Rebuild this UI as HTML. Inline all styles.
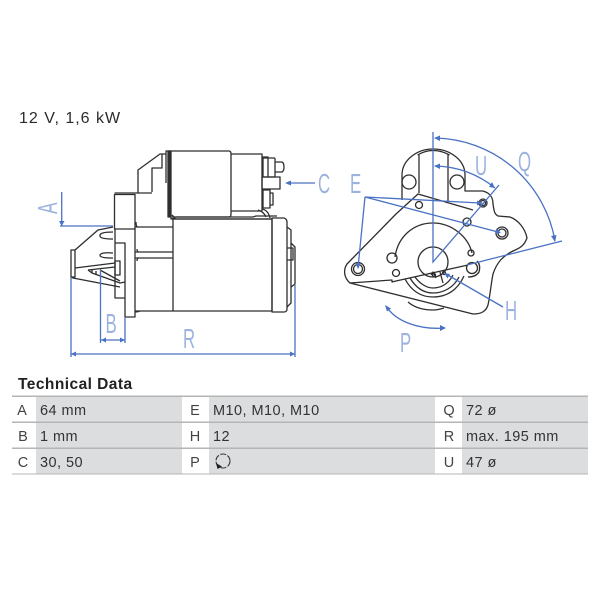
<!DOCTYPE html>
<html>
<head>
<meta charset="utf-8">
<style>
html,body{margin:0;padding:0;background:#fff;width:600px;height:600px;overflow:hidden}
svg{display:block;font-family:"Liberation Sans",sans-serif}
.d{fill:none;stroke:#2e2e2e;stroke-width:1.3;stroke-linejoin:round}
.b{fill:none;stroke:#4a72c4;stroke-width:1.3}
.ah{fill:#4a72c4;stroke:none}
.l{fill:#9cb3e0;font-size:28px}
.t{fill:#333;font-size:14.5px;letter-spacing:.45px}
.k{fill:#444;font-size:14.5px;text-anchor:middle}
</style>
</head>
<body>
<svg width="600" height="600" viewBox="0 0 600 600" xmlns="http://www.w3.org/2000/svg">
<text x="19" y="123" font-size="16" letter-spacing="1" fill="#2b2b2b">12 V, 1,6 kW</text>

<!-- side view -->
<g class="d">
<rect x="114.500" y="194.500" width="20.500" height="34.500"/>
<path d="M135 229V312M135 312V317H125V243H115M115 229V298H125"/>
<path d="M138 193V170L160 154H166V151H171M138 193H114.500M152 192V168H162V154M166 151V183M138 193H152"/>
<path d="M135 227H138Q136 227 136 222M136 227H173M135 252H173M135 258H173M139 252Q137 252 137 249M139 258Q137 258 137 261M135 311H173M135 312Q138 312 140 311"/>
<path d="M113 227L98 230L75 250H71V277H75V268L115 263M75 250V270M73 278L120 287M71 277L73 278"/>
<path d="M113 232Q99 232 100 236Q100 239 113 239M113 253Q100 252 100 255.500Q100 258 113 258"/>
<path d="M88 270L115 267M88 270L92 273L120 283L125 282M92 273V270M96 271V274M100 270L120 281M115 261V275H120V261Z"/>
<rect x="168" y="151" width="3" height="66" fill="#2e2e2e"/>
<path d="M171 151H229Q231 151 231 154V214Q231 217 229 217H172M231 154H262V211H231"/>
<path d="M262 157H268L263 158V177M275 158H263M275 158V177H263M268 158V177M275 162H282Q284 163 284 167Q284 171 282 172H275"/>
<rect x="262" y="177" width="18" height="12"/>
<path d="M263 190V208H270V190ZM270 193H273V205H270"/>
<path d="M171 215V219L175 218L172 215M172 219H272M176 217H253L256 216H277M262 209Q268 210 270 218M258 210Q264 212 266 217"/>
<rect x="173" y="219" width="99" height="92"/>
<path d="M272 218H284Q287 219 287 222V309Q287 312 284 312H272V218Z"/>
<path d="M287 227L291 230V303L287 307"/>
<path d="M291 243L295 247V284L291 287M287 248H293V260H287"/>
</g>

<!-- side view dims -->
<g class="b">
<path d="M61.700 192V226M60 226H113"/>
<path d="M100.500 270V343M125 317V343M101 340H125"/>
<path d="M71 277V357M295 285V357M71 354H295"/>
<path d="M315 183H288"/>
</g>
<g class="ah">
<path d="M59 221H64.500L61.700 226Z"/>
<path d="M101 340L106 337.500V342.500ZM125 340L120 337.500V342.500Z"/>
<path d="M71 354L76 351.500V356.500ZM295 354L290 351.500V356.500Z"/>
<path d="M285 183L291 180.500V185.500Z"/>
</g>

<!-- front view -->
<g class="d">
<path d="M402 200V175C402 160 417 149 433 149C450 149 465 160 465 175V191H483C490 193 493 197 493 204C494 210 494 214 498 216L510 217C518 220 525 228 527 238C524 246 520 248 513 251C503 256 497 262 493 274C491 284 490 296 488 305C486 311 482 314 473 314L350 283C344 278 343 270 347 264L396 214L418 194L473 210"/>
<path d="M419 155V193M448 155V201M417.500 155Q433 146 449.500 155"/>
<circle cx="409" cy="182" r="7"/>
<circle cx="457" cy="182" r="7"/>
<circle cx="419" cy="205" r="3.500"/>
<circle cx="467" cy="222" r="4"/>
<circle cx="483" cy="203" r="4"/>
<circle cx="483" cy="203" r="2.500"/>
<circle cx="502" cy="233" r="6"/>
<circle cx="502" cy="233" r="4"/>
<circle cx="358" cy="269" r="6.500"/>
<circle cx="358" cy="269" r="4.500"/>
<path d="M395 257C398 236 414 223 433 223C451 223 468 236 472 253"/>
<circle cx="433" cy="262" r="15"/>
<circle cx="392" cy="258" r="5"/>
<circle cx="396" cy="273" r="3.500"/>
<circle cx="471" cy="253" r="3"/>
<circle cx="472" cy="268" r="5.500"/>
<path d="M477 261Q481 265 479 272Q476 277 468 277"/>
<path d="M350 283L392 280V282L396 281L468 265"/>
<path d="M405 279C412 292 422 297 433 297C448 297 458 289 464 276M410 278C416 288 424 293 433 293C444 293 454 287 459 277M415 277C420 284 427 288 433 288C442 288 449 283 453 275"/>
<path d="M408 302C415 308 425 310 433 310C437 310 441 309 444 308"/>
<path d="M431 275L433 272L436 278M440 272L443 283"/>
<circle cx="434" cy="275" r="1.500"/>
<circle cx="444" cy="273" r="1.500"/>
</g>

<g class="b">
<path d="M433 132V262L499 185"/>
<path d="M435 138A124 124 0 0 1 555 241"/>
<path d="M435 166A96.500 96.500 0 0 1 495 188"/>
<path d="M365 197L480 203M365 197L498 232M365 197L358 268"/>
<path d="M562 241L467 265"/>
<path d="M503 307L446 274"/>
<path d="M386 306C396 322 420 330 445 328"/>
</g>
<g class="ah">
<path d="M434 138L440 135.500V141Z"/>
<path d="M555 242L551 236L556.500 235Z"/>
<path d="M434 166L440 163.500V169Z"/>
<path d="M495 188L489 187L492 182Z"/>
<path d="M483 203L477 200.500V205.500Z"/>
<path d="M501 233L495 233.500L496.500 228.500Z"/>
<path d="M358 269L355.500 263L360.500 263.500Z"/>
<path d="M444 273L450 274L447.500 278.500Z"/>
<path d="M385 305L391 308.500L387 311.500Z"/>
<path d="M446 328L440 325V331Z"/>
</g>

<!-- blue labels -->
<g class="l">
<text transform="translate(57 214) rotate(-90) scale(.62 1)">A</text>
<text transform="translate(105.500 333) scale(.6 1)">B</text>
<text transform="translate(318 193) scale(.6 1)">C</text>
<text transform="translate(183 348) scale(.6 1)">R</text>
<text transform="translate(350 193) scale(.6 1)">E</text>
<text transform="translate(475 175) scale(.6 1)">U</text>
<text transform="translate(518 171) scale(.6 1)">Q</text>
<text transform="translate(505 320) scale(.6 1)">H</text>
<text transform="translate(400 352) scale(.6 1)">P</text>
</g>

<!-- table -->
<text x="18" y="389" font-size="15.500" font-weight="bold" letter-spacing=".45" fill="#222">Technical Data</text>
<g fill="#dcddde">
<rect x="36" y="396" width="146" height="78"/>
<rect x="209" y="396" width="226" height="78"/>
<rect x="462" y="396" width="126" height="78"/>
</g>
<g fill="#b4b5b6">
<rect x="12" y="395.500" width="576" height="1.500"/>
<rect x="12" y="421.500" width="576" height="1.500"/>
<rect x="12" y="447.500" width="576" height="1.500"/>
<rect x="12" y="473.500" width="576" height="1"/>
</g>
<g class="k">
<text x="22" y="415">A</text><text x="23" y="441">B</text><text x="23" y="467">C</text>
<text x="195" y="415">E</text><text x="195" y="441">H</text><text x="195" y="467">P</text>
<text x="449" y="415">Q</text><text x="449" y="441">R</text><text x="449" y="467">U</text>
</g>
<g class="t">
<text x="40" y="415">64 mm</text>
<text x="40" y="441">1 mm</text>
<text x="40" y="467">30, 50</text>
<text x="213" y="415">M10, M10, M10</text>
<text x="213" y="441">12</text>
<text x="466" y="415">72 ø</text>
<text x="466" y="441">max. 195 mm</text>
<text x="466" y="467">47 ø</text>
</g>
<circle cx="223" cy="461" r="7" fill="none" stroke="#333" stroke-width="1.100" stroke-dasharray="6 1.500"/>
<path d="M216 463L222 466.500L217.500 469Z" fill="#222"/>
</svg>
</body>
</html>
